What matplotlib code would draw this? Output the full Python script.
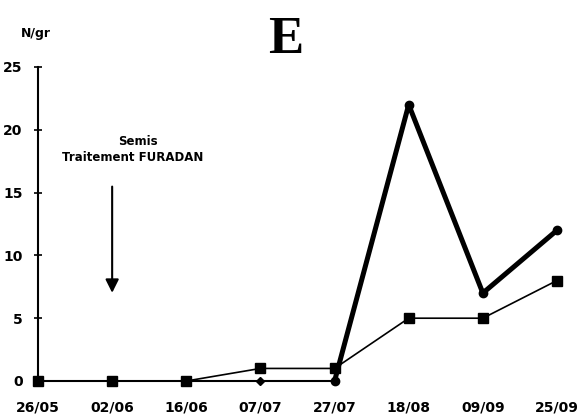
import matplotlib
matplotlib.use("Agg")
import matplotlib.pyplot as plt

# sampling dates and counts per gram for the two series
dates = ["26/05", "02/06", "16/06", "07/07", "27/07", "18/08", "09/09", "25/09"]
series_heavy = [0, 0, 0, 0, 0, 22, 7, 12]
series_light = [0, 0, 0, 1, 1, 5, 5, 8]
y_ticks = [0, 5, 10, 15, 20, 25]

plt.rcParams["font.family"] = ["DejaVu Sans"]

fig = plt.figure(figsize=(5.82, 4.20), dpi=100)
ax = fig.add_axes([30.6 / 582, 39 / 420, 533.8 / 582, 314 / 420])

x = list(range(len(dates)))

# light series: thin line with square markers
ax.plot(x, series_light, color="black", linewidth=1.2, marker="s",
        markersize=6.5, clip_on=False, zorder=3)

# heavy series: thin along the zero stretch, thick once it rises
first_up = next(i for i, v in enumerate(series_heavy) if v > 0) - 1
ax.plot(x[:first_up + 1], series_heavy[:first_up + 1], color="black",
        linewidth=1.5, marker="D", markersize=4.5, clip_on=False, zorder=3)
ax.plot(x[first_up:], series_heavy[first_up:], color="black",
        linewidth=3.6, marker="o", markersize=6, clip_on=False, zorder=4,
        solid_joinstyle="round", solid_capstyle="round")

ax.set_xlim(-0.1, len(dates) - 0.9)
ax.set_ylim(0, 25)

for side in ("top", "right", "bottom"):
    ax.spines[side].set_visible(False)
ax.spines["left"].set_position(("data", 0))
ax.spines["left"].set_linewidth(1.5)

ax.set_yticks(y_ticks)
ax.set_yticklabels([str(v) for v in y_ticks], fontweight="bold", fontsize=10)
ax.tick_params(axis="y", direction="inout", length=6, width=1.2, pad=8)

ax.set_xticks(x)
ax.set_xticklabels(dates, fontweight="bold", fontsize=10)
ax.tick_params(axis="x", length=0, pad=14)

# sowing / treatment annotation
ax.annotate("", xy=(1, 6.8), xytext=(1, 15.7),
            arrowprops=dict(arrowstyle="-|>", color="black", lw=1.5,
                            mutation_scale=20))
ax.text(1.35, 19.1, "Semis", ha="center", va="center",
        fontsize=8.5, fontweight="bold")
ax.text(1.28, 17.8, "Traitement FURADAN", ha="center", va="center",
        fontsize=8.5, fontweight="bold")

fig.text(286 / 582, 1 - 40 / 420, "E", ha="center", va="center",
         fontsize=38, fontweight="bold", family="Liberation Serif")
fig.text(36 / 582, 1 - 33 / 420, "N/gr", ha="center", va="center",
         fontsize=9, fontweight="bold")

fig.savefig("out.png", dpi=100)
